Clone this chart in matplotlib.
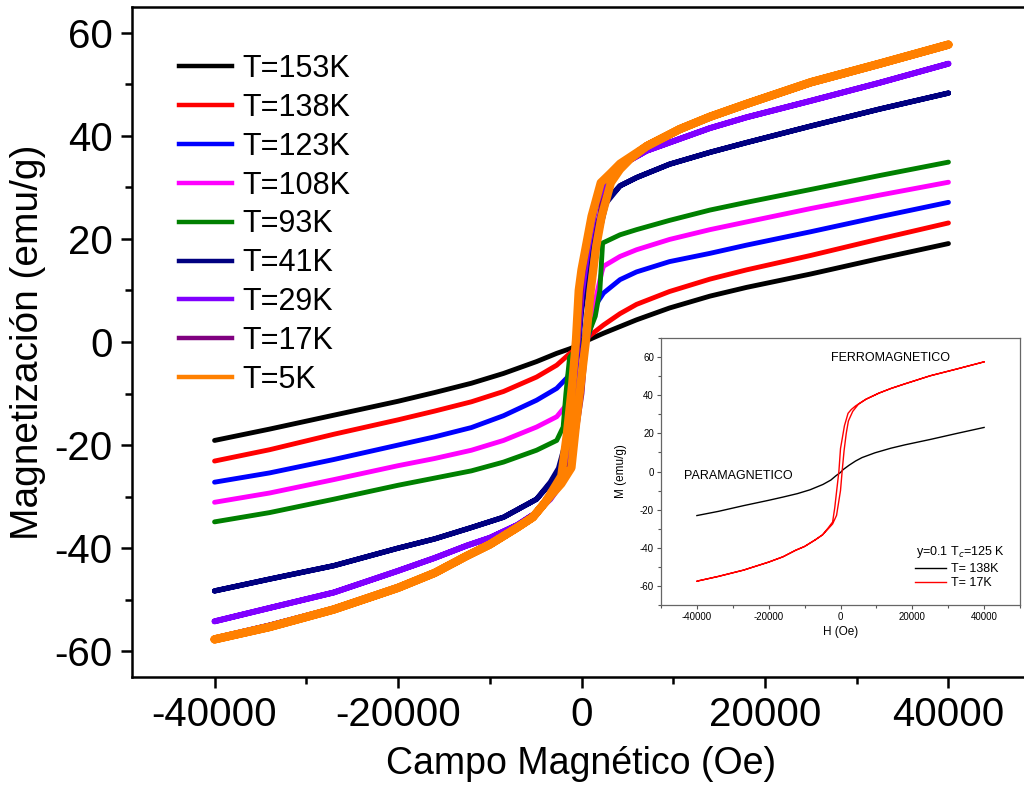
import matplotlib
matplotlib.use("Agg")
import matplotlib.pyplot as plt
from matplotlib.lines import Line2D
from matplotlib.ticker import MultipleLocator

plt.rcParams['font.family'] = ['Liberation Sans', 'DejaVu Sans']
plt.rcParams['axes.unicode_minus'] = False

# ---------------- data ----------------
labels = ["T=153K", "T=138K", "T=123K", "T=108K", "T=93K",
          "T=41K", "T=29K", "T=17K", "T=5K"]
colors = ["#000000", "#FF0000", "#0000FF", "#FF00FF", "#008000",
          "#000080", "#8000FF", "#800080", "#FF8000"]

# paramagnetic-like curves
H_153 = [-40000, -34000, -27000, -20000, -16000, -12000, -8500, -4900, -2700, -1250, 0, 740, 2400, 4200, 6000, 9600, 14000, 18000, 25000, 32500, 40000]
M_153 = [-19.1, -16.9, -14.2, -11.5, -9.8, -8.0, -6.1, -3.8, -2.2, -1.3, -0.4, 0.4, 1.7, 3.0, 4.3, 6.6, 8.9, 10.6, 13.2, 16.2, 19.1]

H_138 = [-40000, -34000, -27000, -20000, -16000, -12000, -8500, -4900, -2700, -1250, 0, 740, 2400, 4200, 6000, 9600, 14000, 18000, 25000, 32500, 40000]
M_138 = [-23.1, -20.9, -17.9, -15.1, -13.4, -11.6, -9.6, -6.8, -4.5, -2.2, -0.5, 1.0, 3.3, 5.5, 7.3, 9.8, 12.2, 14.0, 16.8, 20.0, 23.1]

H_123 = [-40000, -34000, -27000, -20000, -16000, -12000, -8500, -4900, -2700, -1500, -1100, 0, 740, 1660, 2400, 4200, 6000, 9600, 14000, 18000, 25000, 32500, 40000]
M_123 = [-27.2, -25.4, -22.8, -20.0, -18.4, -16.6, -14.3, -11.3, -9.0, -6.8, -3.5, -0.5, 1.0, 7.5, 9.5, 12.1, 13.6, 15.6, 17.2, 18.8, 21.4, 24.3, 27.1]

H_108 = [-40000, -34000, -27000, -20000, -16000, -12000, -8500, -4900, -2700, -1500, -1000, 0, 700, 1500, 2200, 2400, 4200, 6000, 9600, 14000, 18000, 25000, 32500, 40000]
M_108 = [-31.1, -29.3, -26.7, -24.0, -22.6, -21.0, -19.1, -16.5, -14.5, -11.9, -6.0, 0.0, 2.0, 8.0, 13.5, 14.7, 16.6, 17.9, 19.9, 21.8, 23.3, 25.9, 28.5, 31.0]

H_93 = [-40000, -34000, -27000, -20000, -16000, -12000, -8500, -4900, -2700, -2000, -1700, -1300, 0, 740, 1500, 2000, 2300, 4200, 6000, 9600, 14000, 18000, 25000, 32500, 40000]
M_93 = [-34.9, -33.1, -30.5, -27.8, -26.4, -25.0, -23.3, -21.0, -19.1, -16.5, -10.0, -3.0, 0.0, 1.5, 5.0, 10.0, 19.2, 20.8, 21.8, 23.6, 25.6, 27.1, 29.6, 32.3, 34.9]

# ferromagnetic loops: descending branch (+H -> -H) then ascending branch (-H -> +H)
H_41_dn = [40000, 32500, 25000, 18000, 14000, 9600, 6000, 4200, 2700, 1500, 500, 0, -300, -800, -1500, -2500, -3400, -4900, -8500, -12000, -16000, -20000, -27000, -34000, -40000]
M_41_dn = [48.3, 45.2, 41.9, 38.7, 36.8, 34.5, 31.9, 30.3, 27.5, 22.0, 12.0, 6.0, 0.0, -8.0, -18.0, -24.5, -27.2, -30.5, -34.0, -36.0, -38.2, -40.0, -43.4, -46.0, -48.3]
H_41_up = [-40000, -34000, -27000, -20000, -16000, -12000, -8500, -4900, -3400, -2500, -1500, -700, 0, 300, 800, 1500, 2700, 4200, 6000, 9600, 14000, 18000, 25000, 32500, 40000]
M_41_up = [-48.3, -46.0, -43.4, -40.0, -38.2, -36.0, -34.0, -30.5, -27.5, -25.0, -22.0, -14.0, -6.0, 0.0, 8.0, 18.0, 27.0, 30.3, 31.9, 34.5, 36.8, 38.7, 41.9, 45.2, 48.3]

H_29_dn = [40000, 32500, 25000, 18000, 14000, 10700, 7100, 4200, 2500, 1500, 700, 0, -400, -900, -1600, -2400, -3400, -5000, -7000, -10000, -12500, -16000, -20000, -27000, -34000, -40000]
M_29_dn = [54.0, 50.3, 46.8, 43.6, 41.5, 39.4, 37.1, 34.2, 30.8, 26.0, 18.0, 9.0, 0.0, -10.0, -20.0, -27.5, -30.2, -33.2, -35.5, -38.0, -39.5, -41.9, -44.4, -48.6, -51.6, -54.2]
H_29_up = [-40000, -34000, -27000, -20000, -16000, -12500, -10000, -7000, -5000, -3400, -2400, -1500, -700, 0, 400, 900, 1600, 2400, 3400, 4200, 7100, 10700, 14000, 18000, 25000, 32500, 40000]
M_29_up = [-54.2, -51.6, -48.6, -44.4, -41.9, -39.5, -38.0, -35.5, -33.2, -30.5, -28.0, -24.0, -16.0, -8.0, 0.0, 10.0, 20.0, 27.5, 31.5, 34.2, 37.1, 39.4, 41.5, 43.6, 46.8, 50.3, 54.0]

H_17_dn = [40000, 32500, 25000, 18000, 14000, 10700, 7100, 4200, 3000, 2100, 1100, 0, -450, -1000, -1600, -2200, -3400, -5000, -7000, -10000, -12500, -16000, -20000, -27000, -34000, -40000]
M_17_dn = [57.5, 53.8, 50.2, 46.0, 43.5, 41.1, 37.9, 34.4, 32.5, 30.5, 24.0, 12.0, 0.0, -9.0, -19.0, -26.5, -29.5, -33.2, -35.8, -39.3, -41.3, -44.7, -47.5, -51.7, -55.0, -57.5]
H_17_up = [-40000, -34000, -27000, -20000, -16000, -12500, -10000, -7000, -5000, -3400, -2200, -1100, 0, 450, 1000, 1600, 2200, 3400, 5000, 7100, 10700, 14000, 18000, 25000, 32500, 40000]
M_17_up = [-57.5, -55.0, -51.7, -47.5, -44.7, -41.3, -39.3, -35.8, -33.2, -30.0, -27.5, -23.0, -10.0, 0.0, 11.0, 20.0, 26.5, 31.5, 35.3, 37.9, 41.1, 43.5, 46.0, 50.2, 53.8, 57.5]

H_5_dn = [40000, 32500, 25000, 18000, 14000, 10700, 7100, 4200, 3200, 2100, 1100, 0, -300, -600, -1000, -1600, -2200, -3400, -4000, -5300, -7000, -10000, -12500, -16000, -20000, -27000, -34000, -40000]
M_5_dn = [57.7, 54.0, 50.4, 46.2, 43.7, 41.3, 38.0, 34.6, 32.8, 30.9, 24.4, 14.0, 10.0, 0.4, -8.0, -18.0, -26.0, -29.5, -31.2, -34.0, -36.0, -39.3, -41.5, -44.8, -47.7, -51.9, -55.3, -57.7]
H_5_up = [-40000, -34000, -27000, -20000, -16000, -12500, -10000, -7000, -5300, -4000, -3200, -2200, -1100, -600, 130, 490, 1000, 1600, 2200, 3200, 4200, 5300, 7100, 10700, 14000, 18000, 25000, 32500, 40000]
M_5_up = [-57.7, -55.3, -51.9, -47.7, -44.8, -41.5, -39.3, -36.0, -34.0, -31.2, -29.5, -27.5, -24.4, -16.0, -5.0, 0.4, 10.0, 18.5, 24.4, 30.9, 33.5, 35.5, 38.0, 41.3, 43.7, 46.2, 50.4, 54.0, 57.7]

curves_H = [H_153, H_138, H_123, H_108, H_93,
            H_41_dn + H_41_up, H_29_dn + H_29_up, H_17_dn + H_17_up, H_5_dn + H_5_up]
curves_M = [M_153, M_138, M_123, M_108, M_93,
            M_41_dn + M_41_up, M_29_dn + M_29_up, M_17_dn + M_17_up, M_5_dn + M_5_up]
widths = [3.5, 3.5, 3.5, 3.5, 3.5, 3.8, 4.2, 4.2, 6.0]

# inset
inset_labels = ["T= 138K", "T= 17K"]
inset_colors = ["#000000", "#FF0000"]

# ---------------- figure ----------------
W, Hh = 1024, 785
fig = plt.figure(figsize=(W / 100, Hh / 100), dpi=100)

def rect(x0, y0, x1, y1):
    return [x0 / W, 1 - y1 / Hh, (x1 - x0) / W, (y1 - y0) / Hh]

ax = fig.add_axes(rect(132, 7, 1031, 677))
for Hs, Ms, c, lw in zip(curves_H, curves_M, colors, widths):
    ax.plot(Hs, Ms, color=c, lw=lw, solid_capstyle='round', solid_joinstyle='round')

ax.set_xlim(-49000, 49000)
ax.set_ylim(-65, 65)
ax.xaxis.set_major_locator(MultipleLocator(20000))
ax.xaxis.set_minor_locator(MultipleLocator(10000))
ax.yaxis.set_major_locator(MultipleLocator(20))
ax.yaxis.set_minor_locator(MultipleLocator(10))
ax.tick_params(which='both', direction='out', top=False, right=False, width=1.8)
ax.tick_params(which='major', length=8, labelsize=29, pad=6)
ax.tick_params(which='minor', length=5)
for s in ax.spines.values():
    s.set_linewidth(1.8)
ax.set_xlabel("Campo Magnético (Oe)", fontsize=27, labelpad=8)
ax.set_ylabel("Magnetización (emu/g)", fontsize=28, labelpad=6)

handles = [Line2D([], [], color=c, lw=3.2) for c in colors]
ax.legend(handles, labels, loc='upper left', bbox_to_anchor=(179 / W, 1 - 54 / Hh),
          bbox_transform=fig.transFigure, frameon=False, fontsize=22,
          handlelength=1.75, handletextpad=0.32, labelspacing=0.29,
          borderpad=0, borderaxespad=0)

# ---------------- inset ----------------
axi = fig.add_axes(rect(661, 338, 1020, 605))
axi.plot(curves_H[1], curves_M[1], color=inset_colors[0], lw=1.0, label=inset_labels[0])
axi.plot(curves_H[7], curves_M[7], color=inset_colors[1], lw=1.0, label=inset_labels[1])
axi.set_xlim(-50000, 50000)
axi.set_ylim(-70, 70)
axi.xaxis.set_major_locator(MultipleLocator(20000))
axi.xaxis.set_minor_locator(MultipleLocator(10000))
axi.yaxis.set_major_locator(MultipleLocator(20))
axi.yaxis.set_minor_locator(MultipleLocator(10))
axi.tick_params(which='both', direction='out', top=False, right=False,
                color='#555555', width=0.8)
axi.tick_params(which='major', length=3, labelsize=7, pad=2)
axi.tick_params(which='minor', length=2)
for s in axi.spines.values():
    s.set_color('#666666')
    s.set_linewidth(0.9)
axi.set_xlabel("H (Oe)", fontsize=8.5, labelpad=3)
axi.set_ylabel("M (emu/g)", fontsize=8.5, labelpad=9)
axi.text(-2700, 59.5, "FERROMAGNETICO", fontsize=9, va='center', ha='left')
axi.text(-43700, -2.6, "PARAMAGNETICO", fontsize=9, va='center', ha='left')
axi.text(21000, -42, "y=0.1 T$_c$=125 K", fontsize=9, va='center', ha='left')
axi.legend(loc='upper left', bbox_to_anchor=(915 / W, 1 - 563 / Hh),
           bbox_transform=fig.transFigure, frameon=False, fontsize=9,
           handlelength=2.5, handletextpad=0.4, labelspacing=0.2,
           borderpad=0, borderaxespad=0)

fig.savefig("out.png", dpi=100)
